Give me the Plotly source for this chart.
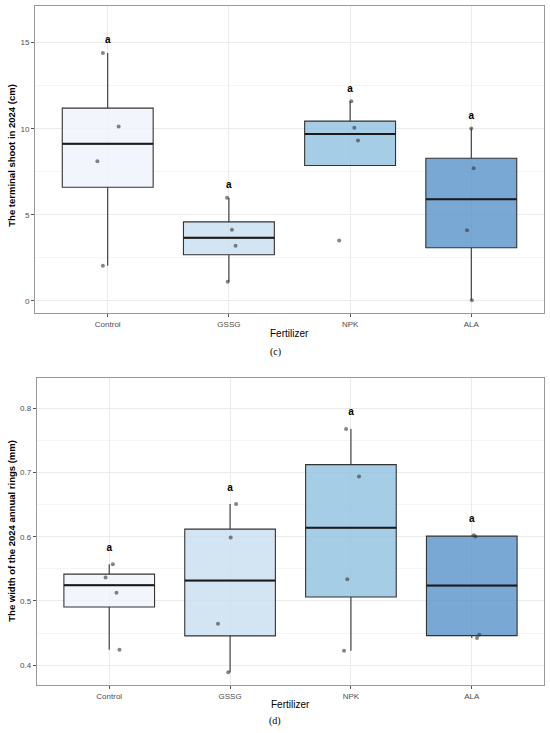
import numpy as np
import plotly.graph_objects as go

fertilizers = ["Control", "GSSG", "NPK", "ALA"]
box_fills = ["rgba(239,244,251,0.8)", "rgba(200,221,239,0.8)",
             "rgba(142,192,224,0.8)", "rgba(89,146,202,0.8)"]

# (c) terminal shoot in 2024 (cm), 4 trees per treatment
shoot_control = [14.4, 10.13, 8.12, 2.05]
shoot_gssg = [5.99, 4.13, 3.2, 1.12]
shoot_npk = [11.6, 10.06, 9.32, 3.51]
shoot_ala = [10.02, 7.71, 4.11, 0.04]
# horizontal jitter of the dots
shoot_jitter = [[-0.04, 0.09, -0.085, -0.04],
                [-0.015, 0.025, 0.055, -0.01],
                [0.01, 0.035, 0.065, -0.09],
                [0.0, 0.02, -0.035, 0.005]]
shoot_letters = ["a", "a", "a", "a"]
shoot_letter_y = [15.1, 6.7, 12.3, 10.7]

# (d) width of the 2024 annual rings (mm)
ring_control = [0.5574, 0.5366, 0.5127, 0.4239]
ring_gssg = [0.651, 0.599, 0.4644, 0.389]
ring_npk = [0.768, 0.694, 0.534, 0.4223]
ring_ala = [0.6026, 0.6005, 0.4473, 0.4421]
ring_jitter = [[0.03, -0.03, 0.06, 0.085],
               [0.05, 0.005, -0.1, -0.015],
               [-0.04, 0.067, -0.03, -0.057],
               [0.015, 0.03, 0.062, 0.043]]
ring_letters = ["a", "a", "a", "a"]
ring_letter_y = [0.582, 0.676, 0.794, 0.627]

BOX_W = 0.75


def box_stats(vals):
    v = np.array(vals)
    q1, med, q3 = np.percentile(v, [25, 50, 75])
    iqr = q3 - q1
    inside = v[(v >= q1 - 1.5 * iqr) & (v <= q3 + 1.5 * iqr)]
    lo = min(inside.min(), q1)
    hi = max(inside.max(), q3)
    return q1, med, q3, lo, hi


def add_panel(fig, groups, jitter, letters, letter_y, xa, ya):
    for i, vals in enumerate(groups):
        q1, med, q3, lo, hi = box_stats(vals)
        fig.add_trace(go.Box(x=[i], q1=[q1], median=[med], q3=[q3],
                             lowerfence=[lo], upperfence=[hi],
                             width=BOX_W, whiskerwidth=0, fillcolor=box_fills[i],
                             line=dict(color="#333333", width=1.1),
                             boxpoints=False, hoverinfo="skip",
                             xaxis=xa, yaxis=ya))
        # ggplot draws the median thicker
        fig.add_trace(go.Scatter(x=[i - BOX_W / 2, i + BOX_W / 2], y=[med, med],
                                 mode="lines", line=dict(color="#1a1a1a", width=2),
                                 xaxis=xa, yaxis=ya))
    xs, ys = [], []
    for i, vals in enumerate(groups):
        xs += [i + j for j in jitter[i]]
        ys += vals
    fig.add_trace(go.Scatter(x=xs, y=ys, mode="markers",
                             marker=dict(size=4, color="rgba(51,51,51,0.6)"),
                             xaxis=xa, yaxis=ya))
    fig.add_trace(go.Scatter(x=list(range(len(groups))), y=letter_y, mode="text",
                             text=letters,
                             textfont=dict(family="Liberation Sans", size=10,
                                           color="black", weight="bold"),
                             xaxis=xa, yaxis=ya))


fig = go.Figure()
add_panel(fig, [shoot_control, shoot_gssg, shoot_npk, shoot_ala],
          shoot_jitter, shoot_letters, shoot_letter_y, "x", "y")
add_panel(fig, [ring_control, ring_gssg, ring_npk, ring_ala],
          ring_jitter, ring_letters, ring_letter_y, "x2", "y2")

H, W = 733, 550
tickfont = dict(family="Liberation Sans", size=8, color="#4D4D4D")
common_x = dict(range=[-0.6, 3.6], tickvals=[0, 1, 2, 3], ticktext=fertilizers,
                showgrid=True, gridcolor="#EBEBEB", gridwidth=0.8,
                zeroline=False, showline=True, mirror=True, linecolor="#999999",
                linewidth=1, ticks="outside", ticklen=3, tickcolor="#555555",
                tickwidth=0.8, tickfont=tickfont)
common_y = dict(showgrid=True, gridcolor="#EBEBEB", gridwidth=0.8,
                zeroline=False, showline=True, mirror=True, linecolor="#999999",
                linewidth=1, ticks="outside", ticklen=3, tickcolor="#555555",
                tickwidth=0.8, tickfont=tickfont)

fig.update_layout(
    width=W, height=H, margin=dict(l=0, r=0, t=0, b=0),
    plot_bgcolor="white", paper_bgcolor="white", showlegend=False,
    xaxis=dict(common_x, domain=[35 / W, 544 / W], anchor="y"),
    yaxis=dict(common_y, domain=[1 - 313 / H, 1 - 6 / H], anchor="x",
               range=[-0.70, 17.13], dtick=5,
               minor=dict(dtick=2.5, showgrid=True, gridcolor="#F5F5F5")),
    xaxis2=dict(common_x, domain=[36.7 / W, 544.3 / W], anchor="y2"),
    yaxis2=dict(common_y, domain=[1 - 685 / H, 1 - 377.7 / H], anchor="x2",
                range=[0.369, 0.848], dtick=0.1, tickformat=".1f",
                minor=dict(dtick=0.05, showgrid=True, gridcolor="#F5F5F5")),
)

title_font = dict(family="Liberation Sans", size=9.5, color="black", weight="bold")
label_font = dict(family="Liberation Sans", size=10, color="black")
serif_font = dict(family="Liberation Serif", size=10, color="black")
notes = [
    ("The terminal shoot in 2024 (cm)", 10.7, 155, -90, title_font),
    ("The width of the 2024 annual rings (mm)", 10.7, 531, -90, title_font),
    ("Fertilizer", 289.5, 333.3, 0, label_font),
    ("(c)", 275, 351.5, 0, serif_font),
    ("Fertilizer", 290.5, 704.3, 0, label_font),
    ("(d)", 275, 721, 0, serif_font),
]
for text, px_x, px_y, ang, font in notes:
    fig.add_annotation(text=text, x=px_x / W, y=1 - px_y / H, xref="paper", yref="paper",
                       showarrow=False, textangle=ang, font=font,
                       xanchor="center", yanchor="middle", borderpad=0)

# drop the browser's default 8px body margin so the figure sits at 0,0
fig.write_html("out.html", config={"displayModeBar": False},
               post_script="document.body.style.margin='0';")
